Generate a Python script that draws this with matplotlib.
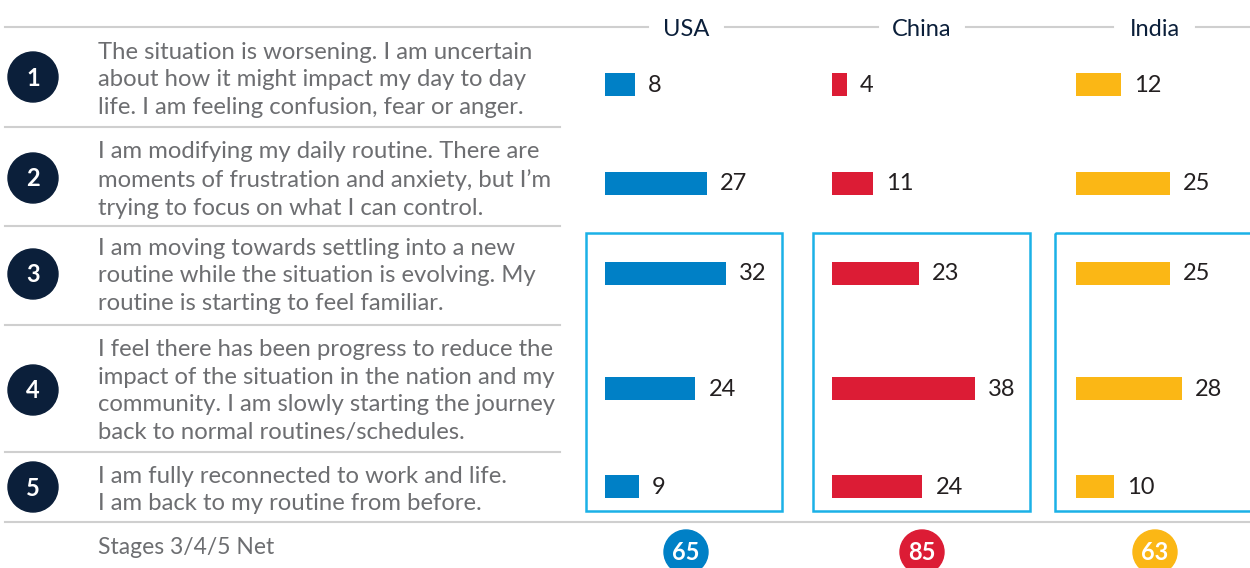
# Stage of coping with the situation, by country
import matplotlib.pyplot as plt
from matplotlib.patches import Circle, Rectangle

countries = ["USA", "China", "India"]
stages = [1, 2, 3, 4, 5]
usa = [8, 27, 32, 24, 9]
china = [4, 11, 23, 38, 24]
india = [12, 25, 25, 28, 10]
net = [65, 85, 63]
stage_text = [
    "The situation is worsening. I am uncertain\nabout how it might impact my day to day\nlife. I am feeling confusion, fear or anger.",
    "I am modifying my daily routine. There are\nmoments of frustration and anxiety, but I\u2019m\ntrying to focus on what I can control.",
    "I am moving towards settling into a new\nroutine while the situation is evolving. My\nroutine is starting to feel familiar.",
    "I feel there has been progress to reduce the\nimpact of the situation in the nation and my\ncommunity. I am slowly starting the journey\nback to normal routines/schedules.",
    "I am fully reconnected to work and life.\nI am back to my routine from before.",
]
net_label = "Stages 3/4/5 Net"

colors = ["#0080c6", "#dc1c35", "#fbb715"]
navy = "#0b1f3a"
gray_txt = "#6d6e71"
line_gray = "#cfcfcf"
box_blue = "#1bb1e7"

W, H = 1250, 568
plt.rcParams["font.family"] = ["Lato", "DejaVu Sans"]
fig = plt.figure(figsize=(W / 100, H / 100), dpi=100)

# layout axes in pixel coordinates
ax = fig.add_axes([0, 0, 1, 1])
ax.set_xlim(0, W)
ax.set_ylim(H, 0)
ax.axis("off")

row_y = [84, 183, 273, 388, 486]      # bar centres
circ_y = [77, 178, 274, 390, 487]
text_y = [80, 180, 276, 391, 490]
seps = [127, 226, 325, 452]
col_x = [686, 922, 1155]
bar_x0 = [605, 832, 1076]
px_per_unit = 3.77

# header line with gaps for country names
for xa, xb in [(5, 648), (725, 878), (966, 1113), (1196, 1250)]:
    ax.plot([xa, xb], [27, 27], color=line_gray, lw=1.5)
for name, x in zip(countries, col_x):
    ax.text(x, 29, name, ha="center", va="center", fontsize=17, color=navy)

for y in seps:
    ax.plot([5, 560], [y, y], color=line_gray, lw=1.5)
ax.plot([5, W], [522, 522], color=line_gray, lw=1.5)

for s, cy, ty, txt in zip(stages, circ_y, text_y, stage_text):
    ax.add_patch(Circle((33, cy), 25, color=navy))
    ax.text(33, cy + 1, str(s), ha="center", va="center", fontsize=17,
            color="white", fontweight="bold")
    ax.text(98, ty, txt, ha="left", va="center", fontsize=17.2,
            color=gray_txt, linespacing=1.38)

ax.text(98, 547, net_label, ha="left", va="center", fontsize=16.5, color=gray_txt)

# boxes around stages 3-5
for x0, x1 in [(586, 782), (813, 1030), (1055, 1262)]:
    ax.add_patch(Rectangle((x0, 233), x1 - x0, 278, fill=False,
                           edgecolor=box_blue, lw=1.8))

for x, v, c in zip(col_x, net, colors):
    ax.add_patch(Circle((x, 552), 22, color=c))
    ax.text(x, 553, str(v), ha="center", va="center", fontsize=17,
            color="white", fontweight="bold")

# bars, one axes per country
for x0, vals, c in zip(bar_x0, [usa, china, india], colors):
    width = 200
    bax = fig.add_axes([x0 / W, 0, width / W, 1])
    bax.set_xlim(0, width / px_per_unit)
    bax.set_ylim(H, 0)
    bax.axis("off")
    bax.barh(row_y, vals, height=23, color=c)
    for y, v in zip(row_y, vals):
        bax.text(v + 13 / px_per_unit, y + 1, str(v), ha="left", va="center",
                 fontsize=17, color="#231f20")

fig.savefig("out.png", dpi=100)
